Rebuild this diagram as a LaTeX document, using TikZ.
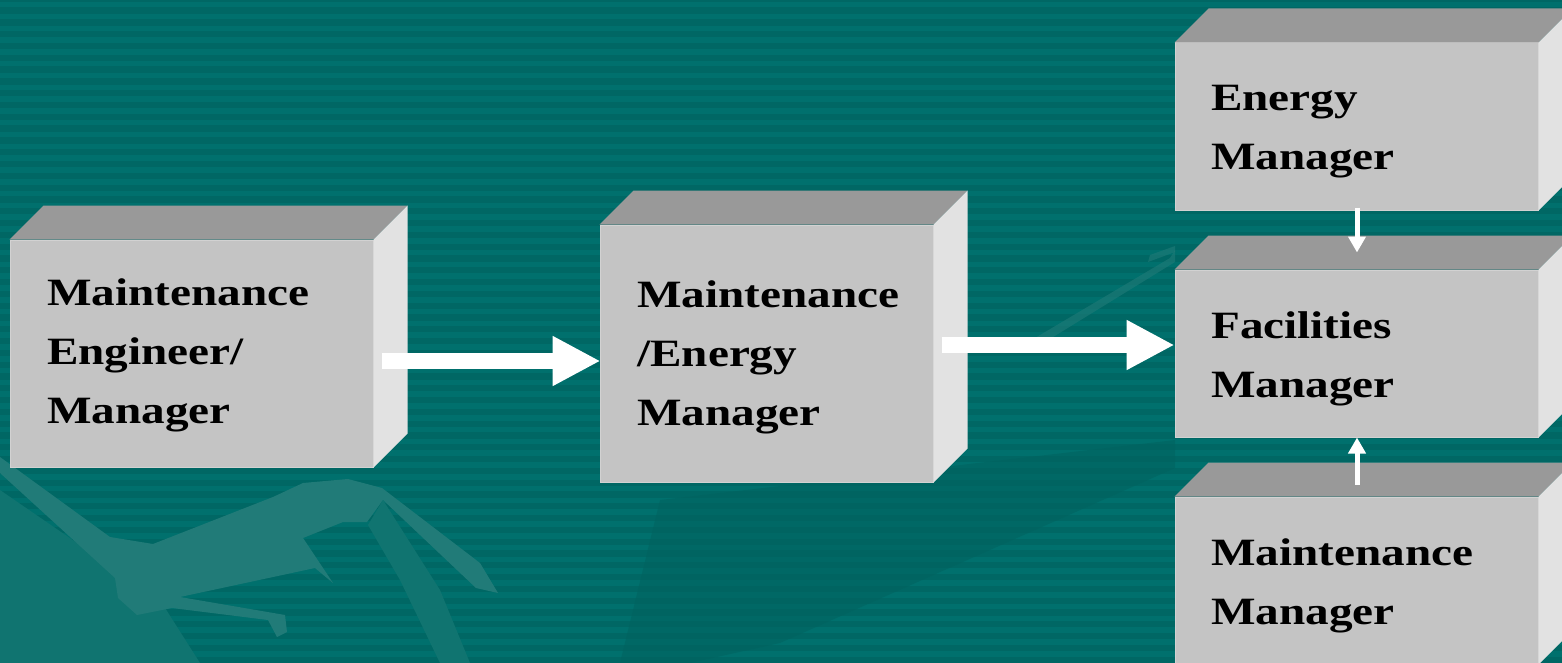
\documentclass[tikz,border=0pt]{standalone}
\usepackage{fontspec}
\newfontfamily\boxfont[FakeStretch=1.22]{Liberation Serif}
\usetikzlibrary{arrows.meta}
\definecolor{bgteal}{HTML}{006764}
\definecolor{stripe}{HTML}{00706D}
\definecolor{frontgray}{HTML}{C4C4C4}
\definecolor{frontedge}{HTML}{D2D2D2}
\definecolor{topgray}{HTML}{999999}
\definecolor{sidegray}{HTML}{E2E2E2}
\definecolor{handlight}{HTML}{217B78}
\definecolor{handmid}{HTML}{107470}
\definecolor{shadowdark}{HTML}{00625F}
\tikzset{
  front/.style={draw=frontedge, line width=0.75pt, fill=frontgray, inner sep=0pt},
  topface/.style={fill=topgray},
  sideface/.style={fill=sidegray},
  boxtext/.style={anchor=base west, inner sep=0pt, text=black,
    font=\boxfont\bfseries\fontsize{29pt}{44.25pt}\selectfont},
  bigarrow/.style={draw=white, line width=12pt, -{Triangle[length=36pt,width=35pt]}},
  smallarrow/.style={draw=white, line width=3.75pt, -{Triangle[length=12pt,width=12.75pt]}}
}
\newcommand{\cubefaces}[1]{%
  \fill[topface] (#1.north west) -- ++(34,-34) -- ([shift={(34,-34)}]#1.north east) -- (#1.north east) -- cycle;
  \fill[sideface] (#1.north east) -- ++(34,-34) -- ([shift={(34,-34)}]#1.south east) -- (#1.south east) -- cycle;
}
\begin{document}
\begin{tikzpicture}[x=0.75pt,y=-0.75pt]
\useasboundingbox (0,0) rectangle (1562,663);
\clip (0,0) rectangle (1562,663);
% background
\fill[bgteal] (0,0) rectangle (1562,663);
\foreach \k in {0,...,55} {
  \fill[stripe] (0,\k*11.8+2) rectangle (1562,\k*11.8+7.5);
}
% faint background drawing
\fill[shadowdark, opacity=0.55] (660,500) -- (1175,440) -- (1175,468) -- (780,643) -- (690,663) -- (620,663) -- cycle;
\fill[handmid] (0,490) -- (160,600) -- (200,663) -- (0,663) -- cycle;
\fill[handlight] (0,457) -- (110,537) -- (153,544) -- (273,497) -- (303,483)
  -- (348,479) -- (382,488) -- (480,563) -- (498,593) -- (476,588)
  -- (383,500) -- (367,522) -- (343,522) -- (303,538) -- (333,583)
  -- (315,568) -- (180,597) -- (285,615) -- (287,632) -- (277,637)
  -- (268,620) -- (172,608) -- (137,615) -- (118,598) -- (115,578)
  -- (0,473) -- cycle;
\fill[handmid] (368,525) -- (383,500) -- (440,590) -- (470,663) -- (440,663) -- (400,580) -- cycle;
\fill[handlight, opacity=0.6] (1035,338) -- (1170,258) -- (1175,250) -- (1175,262) -- (1045,342) -- cycle;
\fill[handlight, opacity=0.6] (1148,262) -- (1175,252) -- (1175,246) -- (1150,255) -- cycle;
% boxes
\node[front, minimum width=363*0.75pt, minimum height=227*0.75pt] (b1) at (191.5,353.5) {};
\node[front, minimum width=333*0.75pt, minimum height=257*0.75pt] (b2) at (766.5,353.5) {};
\node[front, minimum width=363*0.75pt, minimum height=167*0.75pt] (b3) at (1356.5,126.5) {};
\node[front, minimum width=363*0.75pt, minimum height=167*0.75pt] (b4) at (1356.5,353.5) {};
\node[front, minimum width=363*0.75pt, minimum height=167*0.75pt] (b5) at (1356.5,580.5) {};
\cubefaces{b1}
\cubefaces{b2}
\cubefaces{b3}
\cubefaces{b4}
\cubefaces{b5}
% texts
\node[boxtext] (t1) at (47,305) {\vtop{\hbox{Maintenance}\hbox{Engineer/}\hbox{Manager}}};
\node[boxtext] (t2) at (637,307) {\vtop{\hbox{Maintenance}\hbox{/Energy}\hbox{Manager}}};
\node[boxtext] (t3) at (1211,111) {\vtop{\hbox{Energy}\hbox{Manager}}};
\node[boxtext] (t4) at (1211,338) {\vtop{\hbox{Facilities}\hbox{Manager}}};
\node[boxtext] (t5) at (1211,565) {\vtop{\hbox{Maintenance}\hbox{Manager}}};
% arrows
\draw[bigarrow] ([shift={(8,7.5)}]b1.east) -- ([shift={(1,7.5)}]b2.west);
\draw[bigarrow] ([shift={(8,-8.5)}]b2.east) -- ([shift={(0,-8.5)}]b4.west);
\draw[smallarrow] ([shift={(0.5,-3)}]b3.south) -- ([shift={(0.5,-17)}]b4.north);
\draw[smallarrow] ([shift={(0.5,-12)}]b5.north) -- ([shift={(0.5,0)}]b4.south);
\end{tikzpicture}
\end{document}
